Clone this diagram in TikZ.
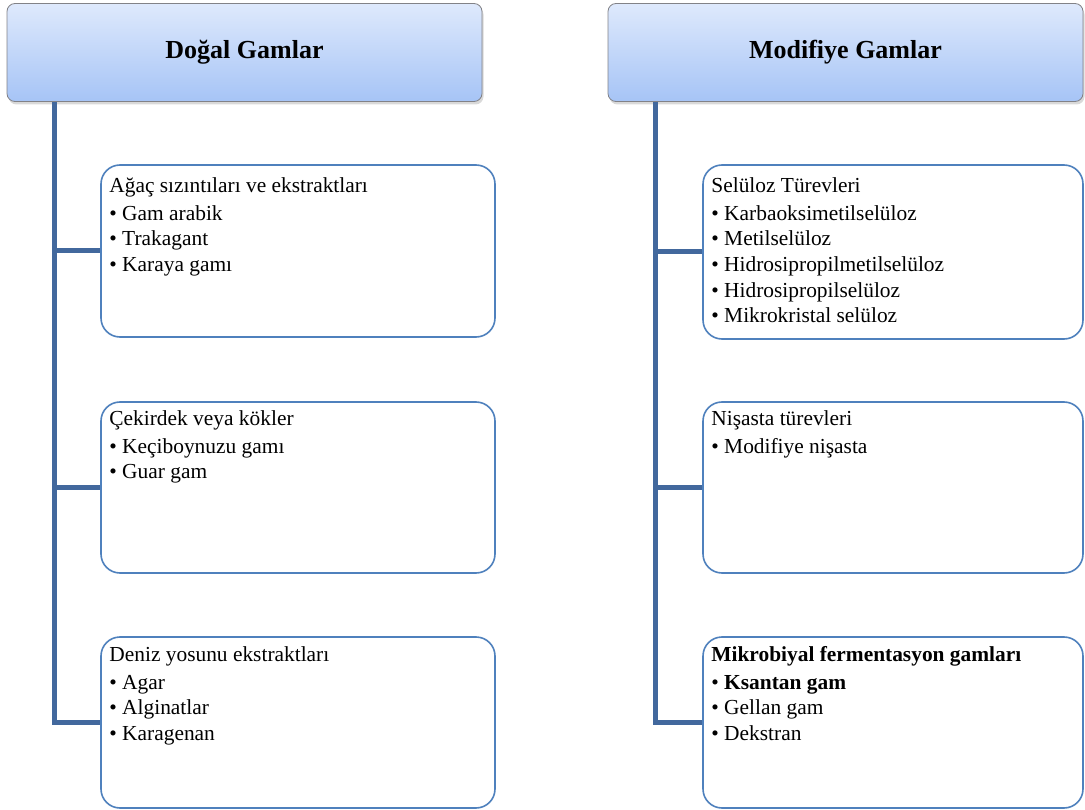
\documentclass[tikz,border=0pt]{standalone}
\usepackage{fontspec}
\setmainfont{Liberation Serif}
\usetikzlibrary{shadows}
\definecolor{conn}{RGB}{66,104,157}
\definecolor{boxb}{RGB}{79,129,189}
\definecolor{htop}{RGB}{222,233,252}
\definecolor{hbot}{RGB}{166,196,246}
\definecolor{hbor}{RGB}{130,130,135}
\tikzset{
  hdr/.style={draw=hbor, line width=0.8pt, rounded corners=8pt,
    top color=htop, bottom color=hbot, minimum width=475pt, minimum height=98pt,
    inner sep=0pt, font=\fontsize{26}{30}\selectfont\bfseries,
    drop shadow={opacity=0.3, shadow xshift=1.5pt, shadow yshift=-3pt}},
  gbox/.style={draw=boxb, line width=1.6pt, rounded corners=19pt, fill=white, inner sep=0pt},
  gtext/.style={anchor=north west, inner sep=0pt, align=left,
    font=\fontsize{21.4}{25.7}\selectfont},
  cline/.style={draw=conn, line width=5pt}
}
\begin{document}
\begin{tikzpicture}[x=1pt,y=-1pt]
\useasboundingbox (0,0) rectangle (1085,810);
% headers
\node[hdr] (h1) at (244.5,52.5) {Doğal Gamlar};
\node[hdr] (h2) at (845.5,52.5) {Modifiye Gamlar};
% vertical guide coordinates
\coordinate (lx) at (54,0);
\coordinate (rx) at (655,0);
% boxes
\node[gbox, minimum width=394pt, minimum height=172pt] (l1) at (298,251) {};
\node[gbox, minimum width=394pt, minimum height=171pt] (l2) at (298,487.5) {};
\node[gbox, minimum width=394pt, minimum height=171pt] (l3) at (298,722.5) {};
\node[gbox, minimum width=380pt, minimum height=174pt] (r1) at (893,252) {};
\node[gbox, minimum width=380pt, minimum height=171pt] (r2) at (893,487.5) {};
\node[gbox, minimum width=380pt, minimum height=171pt] (r3) at (893,722.5) {};
% connectors
\draw[cline] (lx |- h1.south) |- (l3.west);
\draw[cline] (lx |- l1.west) -- (l1.west);
\draw[cline] (lx |- l2.west) -- (l2.west);
\draw[cline] (rx |- h2.south) |- (r3.west);
\draw[cline] (rx |- r1.west) -- (r1.west);
\draw[cline] (rx |- r2.west) -- (r2.west);
% texts
\node[gtext] (l1t) at ([shift={(9,10)}]l1.north west) {\strut Ağaç sızıntıları ve ekstraktları\\[2pt]\textbullet\ Gam arabik\\\textbullet\ Trakagant\\\textbullet\ Karaya gamı};
\node[gtext] (l2t) at ([shift={(9,6)}]l2.north west) {\strut Çekirdek veya kökler\\[2pt]\textbullet\ Keçiboynuzu gamı\\\textbullet\ Guar gam};
\node[gtext] (l3t) at ([shift={(9,7)}]l3.north west) {\strut Deniz yosunu ekstraktları\\[2pt]\textbullet\ Agar\\\textbullet\ Alginatlar\\\textbullet\ Karagenan};
\node[gtext] (r1t) at ([shift={(9,10)}]r1.north west) {\strut Selüloz Türevleri\\[2pt]\textbullet\ Karbaoksimetilselüloz\\\textbullet\ Metilselüloz\\\textbullet\ Hidrosipropilmetilselüloz\\\textbullet\ Hidrosipropilselüloz\\\textbullet\ Mikrokristal selüloz};
\node[gtext] (r2t) at ([shift={(9,6)}]r2.north west) {\strut Nişasta türevleri\\[2pt]\textbullet\ Modifiye nişasta};
\node[gtext] (r3t) at ([shift={(9,7)}]r3.north west) {\strut\textbf{Mikrobiyal fermentasyon gamları}\\[2pt]\textbullet\ \textbf{Ksantan gam}\\\textbullet\ Gellan gam\\\textbullet\ Dekstran};
\end{tikzpicture}
\end{document}
